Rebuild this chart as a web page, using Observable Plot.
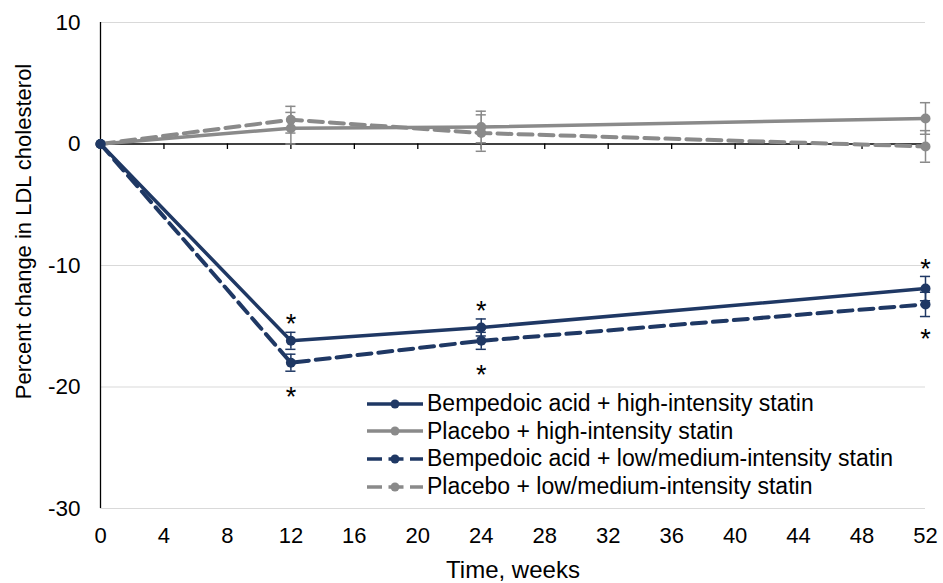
<!DOCTYPE html>
<html>
<head>
<meta charset="utf-8">
<script src="https://cdn.jsdelivr.net/npm/d3@7"></script>
<script src="https://cdn.jsdelivr.net/npm/@observablehq/plot@0.6"></script>
<style>
  html, body { margin: 0; padding: 0; background: #fff; }
  #wrap { position: relative; width: 943px; height: 583px; font-family: "Liberation Sans", Arial, sans-serif; }
  #legend { position: absolute; left: 365px; top: 390px; background: #fff; }
  .row { display: flex; align-items: center; height: 27.6px; font-size: 23px; color: #000; white-space: nowrap; }
  .row svg { margin-right: 2px; }
  g[aria-label^="x-axis tick label"], g[aria-label^="x-axis tick label"] text { font-size: 22px !important; }
  g[aria-label^="y-axis tick label"], g[aria-label^="y-axis tick label"] text { font-size: 22.5px !important; }
</style>
</head>
<body>
<div id="wrap"></div>
<script>
// ---- data ----
const weeks = [0, 12, 24, 52];
const seriesNames = [
  "Bempedoic acid + high-intensity statin",
  "Placebo + high-intensity statin",
  "Bempedoic acid + low/medium-intensity statin",
  "Placebo + low/medium-intensity statin"
];
const bempHigh    = [0, -16.2, -15.1, -11.9];
const bempHighErr = [0, 0.7, 0.7, 1.0];
const placHigh    = [0, 1.3, 1.4, 2.1];
const placHighErr = [0, 1.3, 1.3, 1.3];
const bempLow     = [0, -18.0, -16.2, -13.2];
const bempLowErr  = [0, 0.7, 0.7, 1.0];
const placLow     = [0, 2.0, 0.9, -0.2];
const placLowErr  = [0, 1.1, 1.5, 1.3];
const starWeeks = [12, 12, 24, 24, 52, 52];
const starY     = [-14.2, -20.2, -13.1, -18.4, -9.7, -15.4];
const xTicks = [0, 4, 8, 12, 16, 20, 24, 28, 32, 36, 40, 44, 48, 52];
const yTicks = [10, 0, -10, -20, -30];

const navy = "#1F3864";
const gray = "#8A8A8A";
const dashPattern = "14,7";
const styles = [
  {color: navy, dash: null},
  {color: gray, dash: null},
  {color: navy, dash: dashPattern},
  {color: gray, dash: dashPattern}
];
const values = [bempHigh, placHigh, bempLow, placLow];
const errs = [bempHighErr, placHighErr, bempLowErr, placLowErr];

const rows = [];
values.forEach((vals, s) => {
  weeks.forEach((w, i) => {
    rows.push({series: seriesNames[s], s, week: w, value: vals[i], lo: vals[i] - errs[s][i], hi: vals[i] + errs[s][i], err: errs[s][i]});
  });
});
const stars = starWeeks.map((w, i) => ({week: w, y: starY[i]}));

const capHalf = 0.32;
const order = [1, 3, 0, 2]; // draw gray first
const seriesMarks = [];
for (const s of order) {
  const d = rows.filter(r => r.s === s);
  const e = d.filter(r => r.err > 0);
  const st = styles[s];
  seriesMarks.push(
    Plot.ruleX(e, {x: "week", y1: "lo", y2: "hi", stroke: st.color, strokeWidth: 1.5}),
    Plot.ruleY(e, {y: "lo", x1: r => r.week - capHalf, x2: r => r.week + capHalf, stroke: st.color, strokeWidth: 1.5}),
    Plot.ruleY(e, {y: "hi", x1: r => r.week - capHalf, x2: r => r.week + capHalf, stroke: st.color, strokeWidth: 1.5}),
    Plot.line(d, {x: "week", y: "value", stroke: st.color, strokeWidth: st.dash ? 4 : 3.5, strokeDasharray: st.dash || undefined}),
    Plot.dot(d, {x: "week", y: "value", r: 5, fill: st.color, stroke: "none"})
  );
}

const chart = Plot.plot({
  width: 943,
  height: 583,
  marginTop: 22,
  marginBottom: 75,
  marginLeft: 100,
  marginRight: 18,
  style: {fontFamily: "'Liberation Sans', Arial, sans-serif", fontSize: "22px", color: "#000", background: "#fff"},
  x: {domain: [0, 52]},
  y: {domain: [-30, 10]},
  marks: [
    Plot.ruleY(yTicks.filter(v => v !== 0), {y: d => d, stroke: "#D9D9D9", strokeWidth: 1.2}),
    Plot.ruleY([0], {stroke: "#000", strokeWidth: 1.3}),
    Plot.ruleX(xTicks.filter(v => v !== 0), {x: d => d, y1: 0, y2: -0.45, stroke: "#000", strokeWidth: 1.3}),
    Plot.ruleX([0], {y1: -30, y2: 10, stroke: "#000", strokeWidth: 1.3}),
    Plot.axisY({ticks: yTicks, tickSize: 0, tickPadding: 20, fontSize: 22, tickFormat: d => String(d), label: null}),
    Plot.axisX({ticks: xTicks, tickSize: 0, tickPadding: 19, fontSize: 21, tickFormat: d => String(d), label: null}),
    ...seriesMarks,
    Plot.text(stars, {x: "week", y: "y", text: () => "*", fontSize: 27, dy: 8, fill: "#000"}),
    Plot.text(["Percent change in LDL cholesterol"], {frameAnchor: "left", textAnchor: "middle", lineAnchor: "middle", dx: -77, dy: -34, rotate: -90, text: d => d, fontSize: 22, fill: "#000"}),
    Plot.text(["Time, weeks"], {frameAnchor: "bottom", lineAnchor: "middle", dy: 62, text: d => d, fontSize: 24, fill: "#000"})
  ]
});

const wrap = document.getElementById("wrap");
wrap.appendChild(chart);

// legend
const legend = document.createElement("div");
legend.id = "legend";
seriesNames.forEach((name, s) => {
  const st = styles[s];
  const row = document.createElement("div");
  row.className = "row";
  const ns = "http://www.w3.org/2000/svg";
  const svg = document.createElementNS(ns, "svg");
  svg.setAttribute("width", 60); svg.setAttribute("height", 28);
  const line = document.createElementNS(ns, "line");
  line.setAttribute("x1", 2); line.setAttribute("x2", 58);
  line.setAttribute("y1", 14); line.setAttribute("y2", 14);
  line.setAttribute("stroke", st.color); line.setAttribute("stroke-width", 3.5);
  if (st.dash) line.setAttribute("stroke-dasharray", "15,6.5");
  const c = document.createElementNS(ns, "circle");
  c.setAttribute("cx", 30); c.setAttribute("cy", 14); c.setAttribute("r", 4.5);
  c.setAttribute("fill", st.color);
  svg.appendChild(line); svg.appendChild(c);
  row.appendChild(svg);
  const t = document.createElement("span");
  t.textContent = name;
  row.appendChild(t);
  legend.appendChild(row);
});
wrap.appendChild(legend);
</script>
</body>
</html>
